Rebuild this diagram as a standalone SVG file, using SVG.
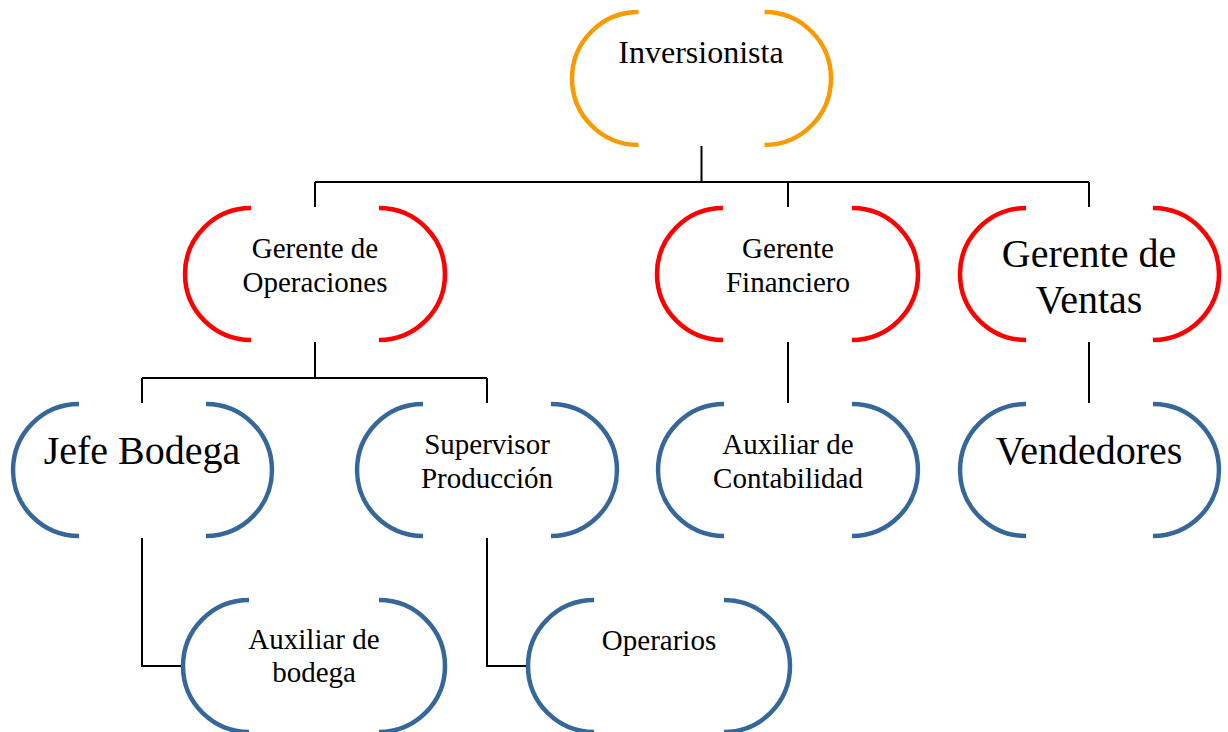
<svg xmlns="http://www.w3.org/2000/svg" width="1228" height="732" viewBox="0 0 1228 732">
<style>
.arc{fill:none;stroke-width:4.5}
.o{stroke:#F99B00}
.r{stroke:#FF0000}
.b{stroke:#36679B}
text{font-family:'Liberation Serif','DejaVu Serif',serif;fill:#000;text-anchor:middle}
.s{font-size:29px}
.m{font-size:32px}
.l{font-size:40px}
.c{fill:none;stroke:#000;stroke-width:2}
</style>
<rect width="1228" height="732" fill="#fff"/>
<g id="connectors">
<path class="c" d="M701.5,146 V182 M315,182 H1089 M315,182 V207 M788,182 V207 M1089,182 V207"/>
<path class="c" d="M315,342 V378 M142,378 H487 M142,378 V403 M487,378 V403"/>
<path class="c" d="M788,342 V403"/>
<path class="c" d="M1089,342 V403"/>
<path class="c" d="M142,538 V666 H183"/>
<path class="c" d="M487,538 V666 H528"/>
</g>
<g id="n-inversionista">
<path class="arc o" d="M638.5,12 A66.5 66.5 0 0 0 638.5,145"/>
<path class="arc o" d="M764.5,12 A66.5 66.5 0 0 1 764.5,145"/>
<text class="m" x="701" y="63" font-family="Liberation Serif">Inversionista</text>
</g>
<g id="n-gerente-operaciones">
<path class="arc r" d="M251,208 A66 66 0 0 0 251,340"/>
<path class="arc r" d="M379,208 A66 66 0 0 1 379,340"/>
<text class="s" x="315" y="258">Gerente de</text>
<text class="s" x="315" y="292">Operaciones</text>
</g>
<g id="n-gerente-financiero">
<path class="arc r" d="M723,208 A66 66 0 0 0 723,340"/>
<path class="arc r" d="M852,208 A66 66 0 0 1 852,340"/>
<text class="s" x="788" y="258">Gerente</text>
<text class="s" x="788" y="292">Financiero</text>
</g>
<g id="n-gerente-ventas">
<path class="arc r" d="M1026,208 A66 66 0 0 0 1026,340"/>
<path class="arc r" d="M1153,208 A66 66 0 0 1 1153,340"/>
<text class="l" x="1089" y="267">Gerente de</text>
<text class="l" x="1089" y="313">Ventas</text>
</g>
<g id="n-jefe-bodega">
<path class="arc b" d="M79,404 A66 66 0 0 0 79,536"/>
<path class="arc b" d="M206,404 A66 66 0 0 1 206,536"/>
<text class="l" x="142" y="464">Jefe Bodega</text>
</g>
<g id="n-supervisor-produccion">
<path class="arc b" d="M423,404 A66 66 0 0 0 423,536"/>
<path class="arc b" d="M551,404 A66 66 0 0 1 551,536"/>
<text class="s" x="487" y="454">Supervisor</text>
<text class="s" x="487" y="488">Producción</text>
</g>
<g id="n-auxiliar-contabilidad">
<path class="arc b" d="M724,404 A66 66 0 0 0 724,536"/>
<path class="arc b" d="M852,404 A66 66 0 0 1 852,536"/>
<text class="s" x="788" y="454">Auxiliar de</text>
<text class="s" x="788" y="488">Contabilidad</text>
</g>
<g id="n-vendedores">
<path class="arc b" d="M1026,404 A66 66 0 0 0 1026,536"/>
<path class="arc b" d="M1153,404 A66 66 0 0 1 1153,536"/>
<text class="l" x="1089" y="464">Vendedores</text>
</g>
<g id="n-auxiliar-bodega">
<path class="arc b" d="M249,600 A66 66 0 0 0 249,732"/>
<path class="arc b" d="M379,600 A66 66 0 0 1 379,732"/>
<text class="s" x="314" y="649">Auxiliar de</text>
<text class="s" x="314" y="682">bodega</text>
</g>
<g id="n-operarios">
<path class="arc b" d="M594,600 A66 66 0 0 0 594,732"/>
<path class="arc b" d="M724,600 A66 66 0 0 1 724,732"/>
<text class="s" x="659" y="650">Operarios</text>
</g>
</svg>
